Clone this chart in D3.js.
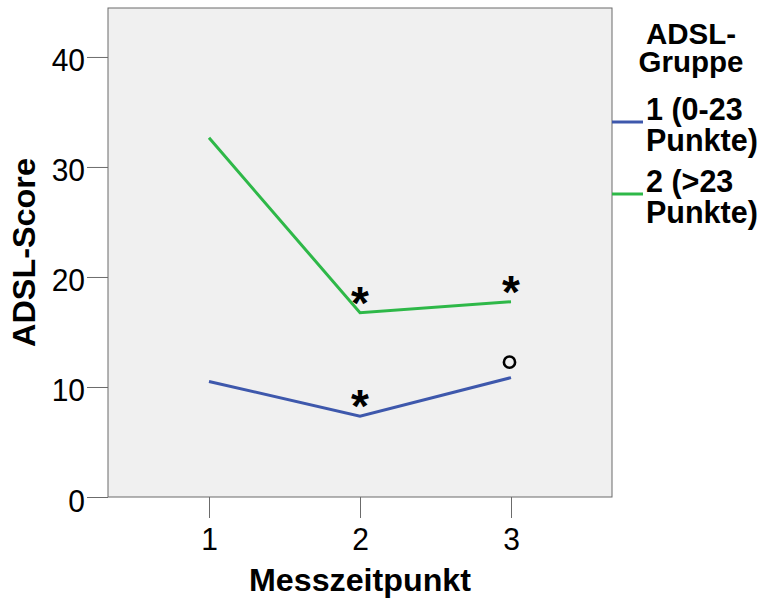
<!DOCTYPE html>
<html>
<head>
<meta charset="utf-8">
<script src="https://cdn.jsdelivr.net/npm/d3@7"></script>
<style>
  html, body { margin: 0; padding: 0; background: #ffffff; }
  svg { display: block; font-family: "Liberation Sans", Arial, sans-serif; }
</style>
</head>
<body>
<svg id="chart" width="769" height="603"></svg>
<script>
// Mean ADSL score per measurement time, split by ADSL group
const timepoints = [1, 2, 3];
const groupNames = ["1 (0-23 Punkte)", "2 (>23 Punkte)"];
const group1Scores = [10.5, 7.35, 10.85];
const group2Scores = [32.65, 16.75, 17.75];
const yTicks = [0, 10, 20, 30, 40];
const legendTitle = ["ADSL-", "Gruppe"];
const legendLabels = [["1 (0-23", "Punkte)"], ["2 (>23", "Punkte)"]];
// Markers shown above individual means: [group index, timepoint, symbol]
const markers = [
  [1, 2, "*"],
  [1, 3, "*"],
  [0, 2, "*"],
  [0, 3, "o"]
];

const colors = ["#3e58ac", "#2eb848"];
const series = [group1Scores, group2Scores];

const svg = d3.select("#chart");
const plot = { left: 108, right: 612, top: 8, bottom: 497 };

const x = d3.scaleLinear()
  .domain([1 - 101 / 151, 3 + 101 / 151])
  .range([plot.left, plot.right]);
const y = d3.scaleLinear()
  .domain([0, 44.45])
  .range([plot.bottom, plot.top]);

// Plot background and frame
svg.append("rect")
  .attr("x", plot.left).attr("y", plot.top)
  .attr("width", plot.right - plot.left)
  .attr("height", plot.bottom - plot.top)
  .attr("fill", "#f0f0f0")
  .attr("stroke", "#6b6b6b")
  .attr("stroke-width", 1);

// Y axis
const yAxis = d3.axisLeft(y).tickValues(yTicks).tickSize(21).tickPadding(2);
const gy = svg.append("g").attr("transform", `translate(${plot.left},0)`).call(yAxis);
gy.select(".domain").remove();
gy.selectAll(".tick line").attr("stroke", "#6b6b6b");
gy.selectAll(".tick text")
  .attr("font-size", 30)
  .attr("fill", "#000")
  .attr("dy", null)
  .attr("x", null)
  .attr("y", null)
  .attr("transform", "translate(-23,14) scale(1,1.07)");

// X axis
const xAxis = d3.axisBottom(x).tickValues(timepoints).tickFormat(d3.format("d")).tickSize(21).tickPadding(0);
const gx = svg.append("g").attr("transform", `translate(0,${plot.bottom})`).call(xAxis);
gx.select(".domain").remove();
gx.selectAll(".tick line").attr("stroke", "#6b6b6b");
gx.selectAll(".tick text")
  .attr("font-size", 30)
  .attr("fill", "#000")
  .attr("dy", null)
  .attr("y", null)
  .attr("transform", "translate(0,53) scale(1,1.07)");

// Axis titles
svg.append("text")
  .attr("x", (x(1) + x(3)) / 2)
  .attr("y", 591)
  .attr("text-anchor", "middle")
  .attr("font-size", 31.5)
  .attr("font-weight", "bold")
  .attr("textLength", 222)
  .attr("lengthAdjust", "spacingAndGlyphs")
  .text("Messzeitpunkt");

svg.append("text")
  .attr("transform", `translate(35,252.5) rotate(-90)`)
  .attr("text-anchor", "middle")
  .attr("font-size", 31)
  .attr("font-weight", "bold")
  .attr("textLength", 189)
  .attr("lengthAdjust", "spacingAndGlyphs")
  .text("ADSL-Score");

// Lines
const line = d3.line()
  .x((d, i) => x(timepoints[i]))
  .y(d => y(d));

svg.append("g").selectAll("path")
  .data(series)
  .join("path")
  .attr("d", d => line(d))
  .attr("fill", "none")
  .attr("stroke", (d, i) => colors[i])
  .attr("stroke-width", 3)
  .attr("stroke-linejoin", "miter");

// Markers above the means
const mg = svg.append("g");
markers.forEach(([g, t, sym]) => {
  const px = x(t);
  const py = y(series[g][timepoints.indexOf(t)]);
  if (sym === "o") {
    mg.append("circle")
      .attr("cx", px - 1.5)
      .attr("cy", py - 15.5)
      .attr("r", 5.6)
      .attr("fill", "none")
      .attr("stroke", "#000")
      .attr("stroke-width", 2.6);
  } else {
    mg.append("text")
      .attr("x", px)
      .attr("y", py + 6)
      .attr("text-anchor", "middle")
      .attr("font-size", 46)
      .attr("font-weight", "bold")
      .text(sym);
  }
});

// Legend
const legend = svg.append("g");
legendTitle.forEach((t, i) => {
  legend.append("text")
    .attr("x", 691)
    .attr("y", 43.5 + i * 28.5)
    .attr("text-anchor", "middle")
    .attr("font-size", 29.5)
    .attr("font-weight", "bold")
    .text(t);
});
legendLabels.forEach((lines, i) => {
  const y0 = 119.5 + i * 72;
  legend.append("line")
    .attr("x1", plot.right).attr("x2", 643)
    .attr("y1", y0 + 2.5).attr("y2", y0 + 2.5)
    .attr("stroke", colors[i])
    .attr("stroke-width", 3);
  lines.forEach((t, j) => {
    legend.append("text")
      .attr("x", 646)
      .attr("y", y0 + j * 31)
      .attr("font-size", 30.5)
      .attr("font-weight", "bold")
      .text(t);
  });
});
</script>
</body>
</html>
